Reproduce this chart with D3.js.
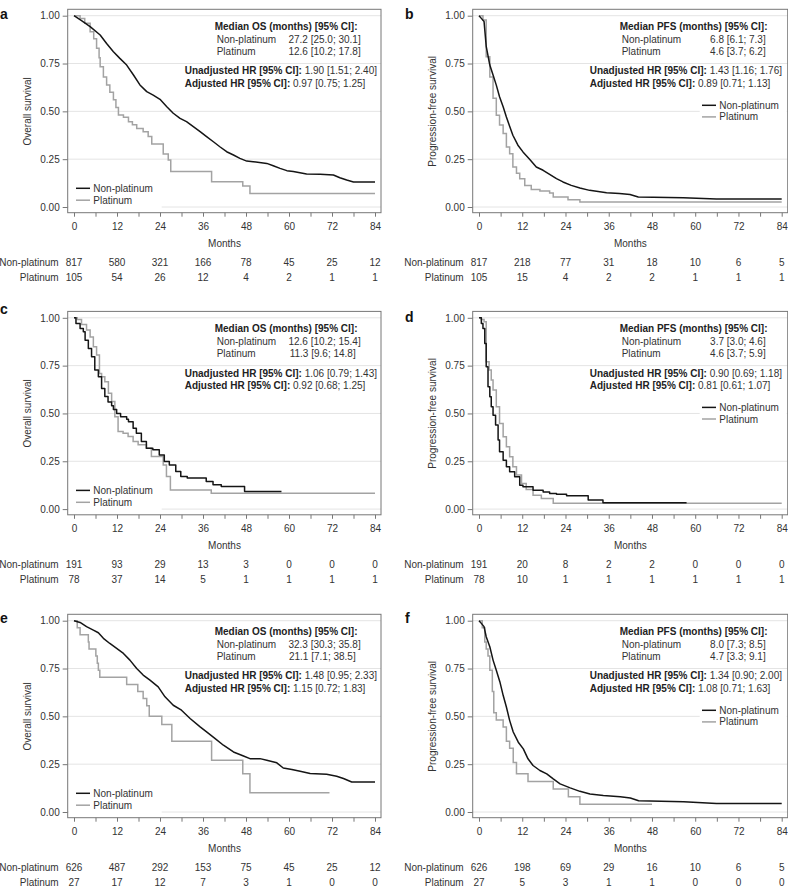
<!DOCTYPE html>
<html><head><meta charset="utf-8">
<script src="https://cdn.jsdelivr.net/npm/d3@7/dist/d3.min.js"></script>
<style>
body{margin:0;background:#fff}
svg{display:block;font-family:"Liberation Sans",Arial,Helvetica,sans-serif}
</style>
</head><body>
<svg id="chart" width="788" height="886"></svg>
<script>
// ---------------- DATA ----------------
const months = [0,12,24,36,48,60,72,84];
const minorMonths = [0,6,12,18,24,30,36,42,48,54,60,66,72,78,84];
const survivalTicks = [0,0.25,0.5,0.75,1];
const groups = ["Non-platinum","Platinum"];
const panelLetters = ["a","b","c","d","e","f"];
const yTitles = ["Overall survival","Progression-free survival","Overall survival","Progression-free survival","Overall survival","Progression-free survival"];
const medianHeaders = ["Median OS (months) [95% CI]:","Median PFS (months) [95% CI]:","Median OS (months) [95% CI]:","Median PFS (months) [95% CI]:","Median OS (months) [95% CI]:","Median PFS (months) [95% CI]:"];
const medianNonPlatinum = ["27.2 [25.0; 30.1]","6.8 [6.1; 7.3]","12.6 [10.2; 15.4]","3.7 [3.0; 4.6]","32.3 [30.3; 35.8]","8.0 [7.3; 8.5]"];
const medianPlatinum = ["12.6 [10.2; 17.8]","4.6 [3.7; 6.2]","11.3 [9.6; 14.8]","4.6 [3.7; 5.9]","21.1 [7.1; 38.5]","4.7 [3.3; 9.1]"];
const unadjustedHR = ["1.90 [1.51; 2.40]","1.43 [1.16; 1.76]","1.06 [0.79; 1.43]","0.90 [0.69; 1.18]","1.48 [0.95; 2.33]","1.34 [0.90; 2.00]"];
const adjustedHR = ["0.97 [0.75; 1.25]","0.89 [0.71; 1.13]","0.92 [0.68; 1.25]","0.81 [0.61; 1.07]","1.15 [0.72; 1.83]","1.08 [0.71; 1.63]"];

// Kaplan-Meier curves: [month, survival]
const aNonPlatinum = [[0,1],[2.1,0.974],[4.5,0.943],[7.3,0.899],[9.1,0.855],[11,0.812],[12.8,0.777],[14.7,0.742],[16.6,0.69],[18.4,0.638],[20.3,0.603],[22.1,0.585],[24,0.563],[25.9,0.524],[27.7,0.49],[29.6,0.463],[31.4,0.446],[33.3,0.42],[35.2,0.394],[37,0.368],[38.9,0.341],[40.7,0.315],[42.6,0.289],[44.5,0.272],[46.3,0.254],[48.2,0.24],[50,0.237],[53.8,0.228],[55.6,0.216],[57.5,0.202],[59.4,0.19],[61.2,0.185],[64.9,0.172],[68.7,0.171],[72.4,0.167],[74.2,0.153],[76.1,0.141],[78,0.131],[84,0.131]];
const aPlatinum = [[0,1],[1.7,0.986],[3,0.96],[4.5,0.916],[5.5,0.88],[6.3,0.83],[7,0.78],[7.3,0.733],[8.2,0.68],[9.1,0.638],[10,0.6],[11,0.56],[11.7,0.52],[12.4,0.481],[13.8,0.469],[15.2,0.446],[16.3,0.43],[17.5,0.411],[19.3,0.394],[20.7,0.368],[21.7,0.329],[24.9,0.277],[26.3,0.246],[27,0.185],[38.4,0.132],[47.1,0.11],[49.1,0.071],[84,0.071]];
const bNonPlatinum = [[0,1],[0.65,0.986],[1.4,0.97],[2,0.84],[3,0.742],[3.9,0.69],[4.8,0.637],[5.7,0.576],[6.7,0.524],[7.6,0.471],[8.5,0.422],[9.4,0.375],[10.8,0.323],[12.2,0.288],[14.1,0.248],[15.9,0.209],[17.8,0.192],[19.6,0.171],[21.5,0.148],[23.3,0.131],[25.6,0.113],[28,0.099],[30.7,0.087],[32.6,0.082],[35.4,0.075],[39,0.07],[41.9,0.065],[44.2,0.052],[56.7,0.049],[65.9,0.042],[84,0.042]];
const bPlatinum = [[0,1],[1.1,0.977],[2,0.785],[3,0.68],[3.9,0.569],[4.8,0.48],[5.7,0.428],[6.7,0.384],[7.6,0.314],[8.5,0.279],[9.4,0.209],[10.4,0.176],[11.3,0.148],[12.7,0.113],[14.5,0.091],[16.9,0.084],[19.6,0.073],[20.6,0.052],[24.7,0.038],[28,0.026],[84,0.026]];
const cNonPlatinum = [[0,1],[0.55,0.97],[1.7,0.944],[2.6,0.927],[3.1,0.883],[4,0.84],[4.9,0.797],[5.8,0.727],[6.8,0.692],[7.7,0.631],[8.6,0.588],[9.5,0.56],[10.5,0.54],[11,0.52],[11.9,0.5],[13,0.483],[14.7,0.47],[15.2,0.457],[16.5,0.423],[17.4,0.397],[18.8,0.353],[20.2,0.318],[22,0.31],[23.8,0.283],[25.2,0.249],[26.6,0.231],[28.4,0.197],[29.8,0.17],[31.6,0.162],[36.9,0.144],[38.8,0.127],[41.1,0.118],[47.6,0.092],[57.9,0.092]];
const cPlatinum = [[0,1],[0.9,0.991],[2.1,0.965],[3.5,0.936],[4.5,0.9],[5.4,0.849],[6.3,0.805],[7.1,0.709],[7.7,0.692],[8.6,0.666],[9.6,0.605],[10.5,0.562],[11.4,0.483],[12.3,0.405],[13.7,0.397],[15.1,0.379],[16.5,0.353],[17.9,0.336],[20.2,0.318],[21.6,0.275],[24.9,0.231],[25.8,0.17],[26.9,0.1],[38.3,0.083],[84,0.083]];
const dNonPlatinum = [[0,1],[0.65,0.97],[1.1,0.944],[1.6,0.866],[2,0.744],[2.5,0.64],[3,0.587],[3.4,0.535],[3.9,0.491],[4.6,0.439],[5.3,0.361],[5.7,0.3],[6.7,0.256],[7.6,0.221],[8.5,0.195],[9.9,0.169],[11.3,0.125],[12.2,0.117],[15,0.099],[17.8,0.09],[19.6,0.082],[21.5,0.077],[24.3,0.07],[30.3,0.047],[34.4,0.033],[57.6,0.033]];
const dPlatinum = [[0,1],[0.65,0.991],[1.4,0.979],[2,0.77],[2.8,0.727],[3.4,0.675],[3.9,0.622],[4.8,0.535],[5.7,0.448],[6.7,0.378],[7.6,0.326],[8.5,0.274],[9.4,0.221],[10.4,0.178],[11.8,0.134],[13.1,0.103],[15,0.073],[17.3,0.056],[20.6,0.03],[84,0.03]];
const eNonPlatinum = [[0,1],[1.7,0.991],[3.5,0.969],[5.4,0.951],[6.8,0.937],[8.2,0.908],[10,0.881],[11.9,0.855],[13.8,0.829],[15.6,0.794],[17.5,0.75],[19.3,0.716],[21.2,0.689],[23.5,0.654],[25.4,0.602],[27.7,0.558],[30,0.532],[32.4,0.489],[35.2,0.445],[37,0.419],[39.4,0.384],[41.7,0.349],[44.5,0.314],[47.3,0.293],[49.1,0.279],[51.9,0.279],[53.8,0.271],[56.6,0.257],[58.4,0.23],[60.8,0.222],[63.1,0.213],[65.9,0.201],[70.5,0.197],[73.3,0.187],[75.2,0.175],[77.5,0.157],[84,0.157]];
const ePlatinum = [[0,1],[0.9,0.963],[1.7,0.926],[4,0.889],[4.2,0.852],[6.1,0.815],[6.5,0.778],[6.8,0.741],[7.2,0.704],[14.7,0.667],[17.8,0.63],[19.3,0.593],[20.3,0.556],[21,0.5],[24.5,0.458],[27.3,0.37],[38.4,0.27],[47.1,0.2],[49.1,0.1],[71.3,0.1]];
const fNonPlatinum = [[0,1],[0.65,0.986],[1.4,0.969],[2,0.916],[3,0.864],[3.9,0.794],[4.8,0.741],[5.8,0.68],[6.7,0.61],[7.6,0.549],[8.5,0.479],[9.5,0.418],[10.9,0.365],[12.3,0.33],[13.6,0.278],[15,0.243],[16.9,0.217],[18.8,0.199],[20.6,0.173],[22.5,0.147],[25.3,0.126],[28,0.108],[30.8,0.094],[34.5,0.086],[39.2,0.08],[42,0.073],[44.3,0.059],[56.8,0.054],[65.9,0.045],[84,0.045]];
const fPlatinum = [[0,1],[0.9,0.963],[1.6,0.889],[2,0.852],[2.5,0.815],[3,0.741],[3.7,0.63],[4.1,0.519],[4.8,0.481],[6.7,0.444],[7.6,0.37],[8.5,0.333],[9.5,0.259],[10.4,0.2],[13.6,0.16],[20.6,0.12],[24.8,0.08],[28,0.04],[48,0.04]];

// Numbers at risk (at months 0,12,...,84)
const aRiskNonPlatinum = [817,580,321,166,78,45,25,12];
const aRiskPlatinum = [105,54,26,12,4,2,1,1];
const bRiskNonPlatinum = [817,218,77,31,18,10,6,5];
const bRiskPlatinum = [105,15,4,2,2,1,1,1];
const cRiskNonPlatinum = [191,93,29,13,3,0,0,0];
const cRiskPlatinum = [78,37,14,5,1,1,1,1];
const dRiskNonPlatinum = [191,20,8,2,2,0,0,0];
const dRiskPlatinum = [78,10,1,1,1,1,1,1];
const eRiskNonPlatinum = [626,487,292,153,75,45,25,12];
const eRiskPlatinum = [27,17,12,7,3,1,0,0];
const fRiskNonPlatinum = [626,198,69,29,16,10,6,5];
const fRiskPlatinum = [27,5,3,1,1,0,0,0];

const curvesNonPlatinum = [aNonPlatinum,bNonPlatinum,cNonPlatinum,dNonPlatinum,eNonPlatinum,fNonPlatinum];
const curvesPlatinum = [aPlatinum,bPlatinum,cPlatinum,dPlatinum,ePlatinum,fPlatinum];
const riskNonPlatinum = [aRiskNonPlatinum,bRiskNonPlatinum,cRiskNonPlatinum,dRiskNonPlatinum,eRiskNonPlatinum,fRiskNonPlatinum];
const riskPlatinum = [aRiskPlatinum,bRiskPlatinum,cRiskPlatinum,dRiskPlatinum,eRiskPlatinum,fRiskPlatinum];

// ---------------- LAYOUT / STYLE ----------------
const colX = [[74,375],[479,781.7]];
const rowY = [15.7,317.8,620.7];
const plotH = 191.3;
const blackCol = "#151515", grayCol = "#a3a3a3";
const textCol = "#333", frameCol = "#777", gridCol = "#e4e4e4";
const smoothNP = [true,true,false,false,true,true];
const legendLeft = [true,false,true,false,true,false];
const valRight2 = [293,293,288,293,288,293];
const letterDy = [-2.4,-2.4,-9.4,-1.8,-3.4,-4];

const svg = d3.select("#chart");

panelLetters.forEach((letter,i)=>{
  const col = i%2, row = Math.floor(i/2);
  const [xa,xb] = colX[col];
  const yTop = rowY[row], yBot = yTop+plotH;
  const x = d3.scaleLinear().domain([0,84]).range([xa,xb]);
  const y = d3.scaleLinear().domain([0,1]).range([yBot,yTop]);
  const L = xa-6.3, R = xb+6, T = yTop-6.4, B = yBot+5.7;
  const g = svg.append("g");

  // gridlines
  g.selectAll("line.grid").data(survivalTicks).join("line")
    .attr("x1",L).attr("x2",R).attr("y1",d=>y(d)).attr("y2",d=>y(d))
    .attr("stroke",gridCol).attr("stroke-width",1);

  // legend background (hides gridline)
  const lg = g.append("g");
  let lx, ly;
  if (legendLeft[i]) {
    lg.append("rect").attr("x",L+1).attr("y",yBot-25).attr("width",93).attr("height",27).attr("fill","#fff");
    lx = L+8.3; ly = [yBot-18.7, yBot-6.8];
  } else {
    lg.append("rect").attr("x",L+227).attr("y",yTop+83).attr("width",R-1-(L+227)).attr("height",25).attr("fill","#fff");
    lx = L+229.3; ly = [yTop+89.6, yTop+101.2];
  }

  // curves
  const lineStep = d3.line().x(d=>x(d[0])).y(d=>y(d[1])).curve(d3.curveStepAfter);
  const lineSmooth = d3.line().x(d=>x(d[0])).y(d=>y(d[1])).curve(d3.curveLinear);
  g.append("path").datum(curvesPlatinum[i]).attr("d",lineStep)
    .attr("fill","none").attr("stroke",grayCol).attr("stroke-width",1.5);
  g.append("path").datum(curvesNonPlatinum[i]).attr("d",smoothNP[i]?lineSmooth:lineStep)
    .attr("fill","none").attr("stroke",blackCol).attr("stroke-width",1.5).attr("stroke-linejoin","round");

  // legend entries
  groups.forEach((name,k)=>{
    lg.append("line").attr("x1",lx).attr("x2",lx+14).attr("y1",ly[k]).attr("y2",ly[k])
      .attr("stroke",k===0?blackCol:grayCol).attr("stroke-width",1.5);
    lg.append("text").attr("x",lx+17.3).attr("y",ly[k]).attr("dy","0.35em")
      .attr("font-size",10).attr("fill",textCol).text(name);
  });

  // frame
  g.append("rect").attr("x",L).attr("y",T).attr("width",R-L).attr("height",B-T)
    .attr("fill","none").attr("stroke",frameCol).attr("stroke-width",1);

  // x axis
  const xAxis = d3.axisBottom(x).tickValues(minorMonths).tickSize(4).tickPadding(6.5)
    .tickFormat(d=>months.includes(d)?d:"");
  const xg = g.append("g").attr("transform",`translate(0,${B})`).call(xAxis);
  xg.select(".domain").remove();
  xg.selectAll(".tick line").attr("stroke",frameCol);
  xg.selectAll(".tick text").attr("font-size",10).attr("fill",textCol).attr("font-family",null);

  // y axis
  const yAxis = d3.axisLeft(y).tickValues(survivalTicks).tickSize(5).tickPadding(3).tickFormat(d3.format(".2f"));
  const yg = g.append("g").attr("transform",`translate(${L},0)`).call(yAxis);
  yg.select(".domain").remove();
  yg.selectAll(".tick line").attr("stroke",frameCol);
  yg.selectAll(".tick text").attr("font-size",10).attr("fill",textCol).attr("font-family",null);

  // axis titles
  g.append("text").attr("x",(xa+xb)/2).attr("y",yBot+36).attr("dy","0.35em").attr("text-anchor","middle")
    .attr("font-size",10).attr("fill",textCol).text("Months");
  g.append("text").attr("transform",`translate(${L-40.3},${(yTop+yBot)/2}) rotate(-90)`).attr("dy","0.35em")
    .attr("text-anchor","middle").attr("font-size",10).attr("fill",textCol).text(yTitles[i]);

  // panel letter
  g.append("text").attr("x",L-67.7).attr("y",T+letterDy[i]+12.3).attr("font-size",14).attr("font-weight","bold")
    .attr("fill","#111").text(letter);

  // median text block
  g.append("text").attr("x",L+147).attr("y",yTop+11).attr("dy","0.35em").attr("font-size",10)
    .attr("font-weight","bold").attr("fill","#222").text(medianHeaders[i]);
  [medianNonPlatinum[i],medianPlatinum[i]].forEach((v,k)=>{
    g.append("text").attr("x",L+149).attr("y",yTop+23.5+12*k).attr("dy","0.35em").attr("font-size",10)
      .attr("fill",textCol).text(groups[k]);
    g.append("text").attr("x",L+(k===0?293:valRight2[i])).attr("y",yTop+23.5+12*k).attr("dy","0.35em").attr("font-size",10)
      .attr("text-anchor","end").attr("fill",textCol).text(v);
  });
  // HR block
  [["Unadjusted HR [95% CI]:",unadjustedHR[i]],["Adjusted HR [95% CI]:",adjustedHR[i]]].forEach((pair,k)=>{
    const t = g.append("text").attr("x",L+117).attr("y",yTop+55.2+12.6*k).attr("dy","0.35em").attr("font-size",10).attr("fill",textCol);
    t.append("tspan").attr("font-weight","bold").attr("fill","#222").text(pair[0]);
    t.append("tspan").text(" "+pair[1]);
  });

  // numbers at risk
  [riskNonPlatinum[i],riskPlatinum[i]].forEach((arr,k)=>{
    const ry = yBot+55+15*k;
    g.append("text").attr("x",L-9).attr("y",ry).attr("dy","0.35em").attr("text-anchor","end")
      .attr("font-size",10).attr("fill",textCol).text(groups[k]);
    g.selectAll(null).data(arr).join("text")
      .attr("x",(d,j)=>x(months[j])).attr("y",ry).attr("dy","0.35em").attr("text-anchor","middle")
      .attr("font-size",10).attr("fill",textCol).text(d=>d);
  });
});
</script>
</body></html>
